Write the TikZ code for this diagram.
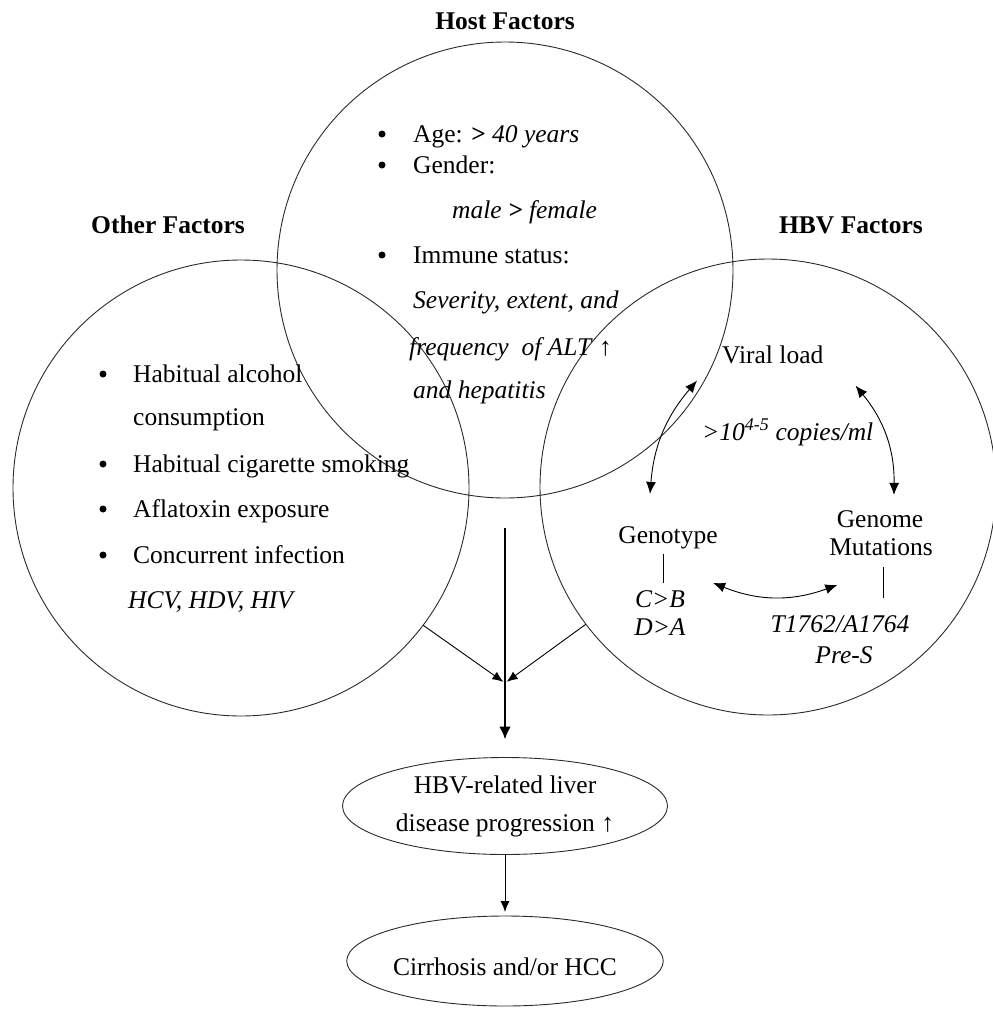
\documentclass[tikz,border=0pt]{standalone}
\usepackage{fontspec}
\setmainfont{Liberation Serif}
\usepackage{tikz}
\usetikzlibrary{arrows.meta, shapes.geometric}
\definecolor{rimGray}{HTML}{2A2A2A}
\newcommand{\fsz}{\fontsize{25.5pt}{30pt}\selectfont}
\newcommand{\bitem}[4]{%
  \node[dot] at (#2-31, #3-8) {};
  \node[item] (#1) at (#2, #3) {#4};%
}

\begin{document}
\begin{tikzpicture}[x=1pt, y=-1pt,
  vcircle/.style={circle, draw=rimGray, line width=0.9pt, minimum size=456pt,
    inner sep=0pt, outer sep=0pt},
  oval/.style={ellipse, draw=rimGray, line width=0.9pt, inner sep=0pt,
    outer sep=0pt, align=center, font=\fontsize{25.5pt}{38pt}\selectfont},
  head/.style={anchor=base, inner sep=0pt, font=\fsz\bfseries},
  item/.style={anchor=base west, inner sep=0pt, font=\fsz},
  citem/.style={anchor=base, inner sep=0pt, font=\fsz},
  dot/.style={circle, fill=black, minimum size=7pt, inner sep=0pt},
  dbl/.style={{Latex[length=12pt, width=10pt]}-{Latex[length=12pt, width=10pt]},
    line width=0.9pt},
  thin/.style={-{Latex[length=11pt, width=9pt]}, line width=0.9pt}
]
\useasboundingbox (0,0) rectangle (993,1010);

% --- CIRCLES ---
\node[vcircle] (host)  at (505,270) {};
\node[vcircle] (other) at (241,488) {};
\node[vcircle] (hbv)   at (768,487) {};

% --- HEADINGS ---
\node[head] (hosthead)  at (505,29)  {Host Factors};
\node[head] (otherhead) at (168,233) {Other Factors};
\node[head] (hbvhead)   at (851,233) {HBV Factors};

% --- HOST FACTORS ---
\bitem{age}{413}{142}{Age: \textbf{>} \textit{40 years}}
\bitem{gender}{413}{173}{Gender:}
\node[item] (sex) at (452,218) {\textit{male \textbf{>} female}};
\bitem{immune}{413}{263}{Immune status:}
\node[item] (imm1) at (413,308) {\textit{Severity, extent, and}};
\node[item] (imm2) at (409,355) {\textit{frequency\ \ of ALT} \textup{↑}};
\node[item] (imm3) at (413,398) {\textit{and hepatitis}};

% --- OTHER FACTORS ---
\foreach \y/\lbl in {
  382/{Habitual alcohol},
  472/{Habitual cigarette smoking},
  517/{Aflatoxin exposure},
  563/{Concurrent infection}
}{
  \node[dot] at (103,\y-8) {};
  \node[item] (oth\y) at (133,\y) {\lbl};
}
\node[item] (consum) at (133,425) {consumption};
\node[item] (virus)  at (128,608) {\textit{HCV, HDV, HIV}};

% --- HBV FACTORS ---
\node[item]  (viral)  at (722,363) {Viral load};
\node[item]  (copies) at (702,440) {\textit{>10\textsuperscript{4-5} copies/ml}};
\node[citem] (genotype) at (668,543) {Genotype};
\node[citem] (genome)   at (880,527) {Genome};
\node[citem] (mutat)    at (881,555) {Mutations};
\node[citem] (cb)   at (660,607) {\textit{C>B}};
\node[citem] (da)   at (660,635) {\textit{D>A}};
\node[citem] (t17)  at (840,632) {\textit{T1762/A1764}};
\node[citem] (pres) at (844,663) {\textit{Pre-S}};

\draw[dbl] ([xshift=-25pt,yshift=-17pt]viral.south west)
  to[bend right=18] ([xshift=-18pt,yshift=32pt]genotype.north);
\draw[dbl] ([xshift=32pt,yshift=-22pt]viral.south east)
  to[bend left=20] ([xshift=14pt,yshift=15pt]genome.north);
\draw[dbl] ([xshift=28pt,yshift=7pt]cb.north east)
  to[bend right=21] ([xshift=67pt,yshift=30pt]t17.north west);
\draw[line width=0.9pt] ([xshift=-5pt,yshift=-5pt]genotype.south)
  -- ([xshift=3pt,yshift=7pt]cb.north);
\draw[line width=0.9pt] ([xshift=2pt,yshift=-12pt]mutat.south)
  -- ([xshift=43pt,yshift=17pt]t17.north);

% --- OUTCOME ---
\node[oval, minimum width=325pt, minimum height=97pt] (prog) at (505,806)
  {HBV-related liver\\disease progression ↑};
\node[oval, minimum width=316pt, minimum height=90pt, text height=28pt,
  text depth=0pt] (cirr) at (505,961) {Cirrhosis and/or HCC};
\coordinate (meet) at (505,683);

\draw[-{Latex[length=13pt, width=12pt]}, line width=2.6pt]
  ([yshift=-30pt]host.south) -- ([yshift=18pt]prog.north);
\draw[thin, shorten >=2pt] (other.-37) -- (meet);
\draw[thin, shorten >=2pt] (hbv.-143) -- (meet);
\draw[thin, shorten >=4pt] (prog.south) -- (cirr.north);

\end{tikzpicture}
\end{document}
